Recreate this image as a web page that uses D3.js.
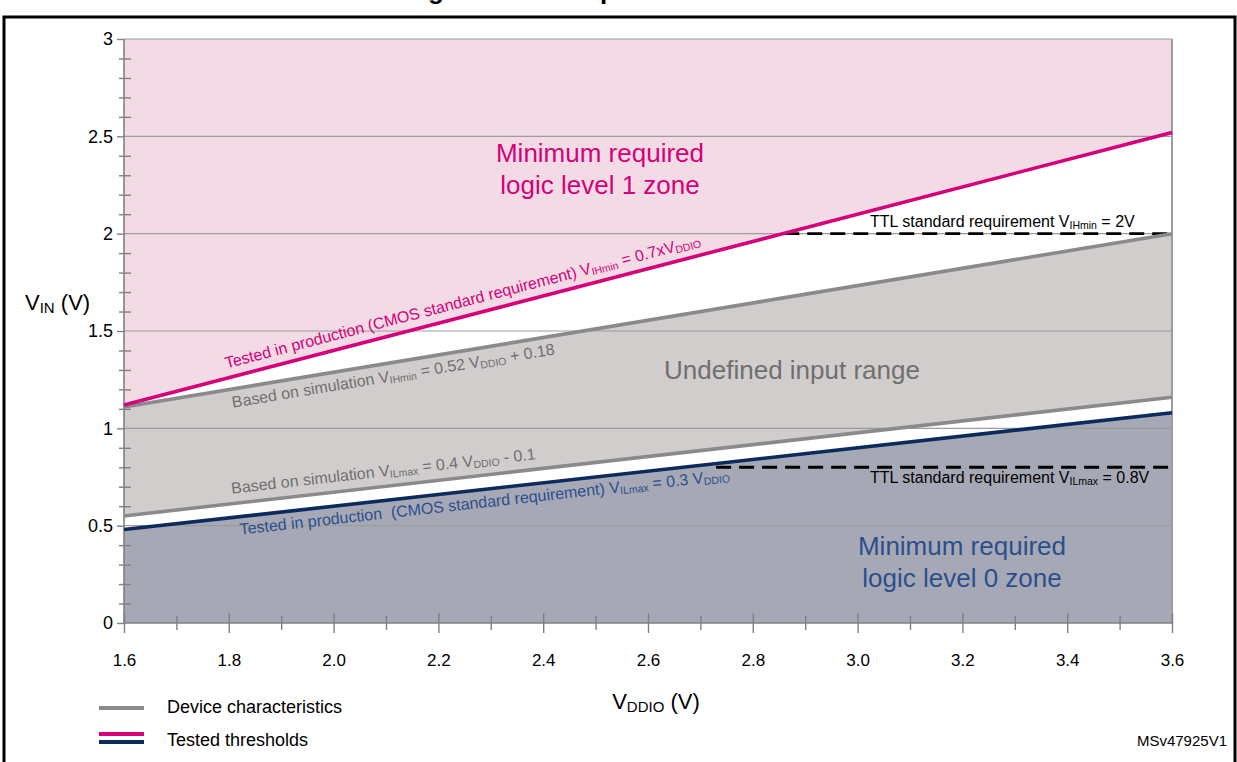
<!DOCTYPE html>
<html>
<head>
<meta charset="utf-8">
<script src="https://cdn.jsdelivr.net/npm/d3@7"></script>
<style>
  html, body { margin: 0; padding: 0; background: #fff; }
  svg { display: block; font-family: "Liberation Sans", Arial, sans-serif; }
</style>
</head>
<body>
<svg id="chart" width="1237" height="762"></svg>
<script>
// ---------- data ----------
const vddio      = [1.6, 3.6];          // x extent of every line
const vihTested  = [1.12, 2.52];        // 0.7 x VDDIO (magenta)
const vihSim     = [1.11, 2.00];        // simulated VIHmin (grey)
const vilSim     = [0.55, 1.16];        // simulated VILmax (grey)
const vilTested  = [0.48, 1.08];        // 0.3 x VDDIO (navy)
const ttlHighX   = [2.86, 3.6];  const ttlHighY = 2.0;
const ttlLowX    = [2.73, 3.6];  const ttlLowY  = 0.8;
const xMajor     = [1.6, 1.8, 2.0, 2.2, 2.4, 2.6, 2.8, 3.0, 3.2, 3.4, 3.6];
const xMajorLbl  = ["1.6","1.8","2.0","2.2","2.4","2.6","2.8","3.0","3.2","3.4","3.6"];
const xMinor     = [1.7, 1.9, 2.1, 2.3, 2.5, 2.7, 2.9, 3.1, 3.3, 3.5];
const yMajor     = [0, 0.5, 1, 1.5, 2, 2.5, 3];
const yMajorLbl  = ["0","0.5","1","1.5","2","2.5","3"];
const yMinor     = [0.1,0.2,0.3,0.4,0.6,0.7,0.8,0.9,1.1,1.2,1.3,1.4,1.6,1.7,1.8,1.9,2.1,2.2,2.3,2.4,2.6,2.7,2.8,2.9];

// ---------- colours ----------
const C = {
  pink: "#f2dbe4", lgray: "#d1cdcd", blue: "#a7a8b6",
  magenta: "#d6007b", gline: "#8a8a8a", navy: "#0c2a5c",
  gtext: "#6f6f6f", ntext: "#2b4f8d", grid: "#9c9c9c", axis: "#808080"
};

const svg = d3.select("#chart");
const x = d3.scaleLinear().domain([1.6, 3.6]).range([124, 1172]);
const y = d3.scaleLinear().domain([0, 3]).range([623, 39]);

const pts = ys => vddio.map((v, i) => [v, ys[i]]);
const lineGen = d3.line().x(d => x(d[0])).y(d => y(d[1]));
const band = (lo, hi) => d3.area().x(d => x(d[0])).y0(d => y(d[1])).y1(d => y(d[2]))(
  vddio.map((v, i) => [v, typeof lo === "number" ? lo : lo[i], typeof hi === "number" ? hi : hi[i]]));

// text with subscripts
function addParts(txt, parts, subSize = 10.5) {
  let shift = 0;
  parts.forEach(p => {
    if (typeof p === "string") {
      const t = txt.append("tspan").text(p);
      if (shift) { t.attr("dy", -shift); shift = 0; }
    } else {
      const d = p.dy || 2;
      txt.append("tspan").attr("font-size", p.size || subSize).attr("dy", d - shift).text(p.sub);
      shift = d;
    }
  });
}

// title (only its descenders show above the frame, as in the source)
svg.append("text").attr("x", 618).attr("y", -1.5).attr("text-anchor", "middle")
  .attr("font-size", 26).attr("font-weight", "bold").attr("fill", "#000")
  .text("Figure 18. I/O input characteristics");

// frame
svg.append("rect").attr("x", 4).attr("y", 17).attr("width", 1231).attr("height", 780)
  .attr("fill", "none").attr("stroke", "#000").attr("stroke-width", 3);

// fills
svg.append("path").attr("d", band(vihTested, 3)).attr("fill", C.pink);
svg.append("path").attr("d", band(vilSim, vihSim)).attr("fill", C.lgray);
svg.append("path").attr("d", band(0, vilTested)).attr("fill", C.blue);

// grid
svg.append("g").selectAll("line").data(yMajor.slice(1)).join("line")
  .attr("x1", x(1.6)).attr("x2", x(3.6)).attr("y1", d => y(d)).attr("y2", d => y(d))
  .attr("stroke", C.grid).attr("stroke-width", 1.2);
svg.append("line").attr("x1", x(3.6)).attr("x2", x(3.6)).attr("y1", y(0)).attr("y2", y(3))
  .attr("stroke", C.grid).attr("stroke-width", 2);

// axes
const gx = svg.append("g").attr("transform", `translate(0,${y(0)})`)
  .call(d3.axisBottom(x).tickValues(xMajor).tickFormat((d, i) => xMajorLbl[i]).tickSize(10).tickPadding(21));
gx.selectAll(".tick line").attr("y1", -10);
const gxm = svg.append("g").attr("transform", `translate(0,${y(0)})`)
  .call(d3.axisBottom(x).tickValues(xMinor).tickFormat("").tickSize(7));
gxm.selectAll(".tick line").attr("y1", -7);
gxm.selectAll(".tick text").remove();
gxm.select(".domain").remove();

const gy = svg.append("g").attr("transform", `translate(${x(1.6)},0)`)
  .call(d3.axisLeft(y).tickValues(yMajor).tickFormat((d, i) => yMajorLbl[i]).tickSize(7).tickPadding(4));
const gym = svg.append("g").attr("transform", `translate(${x(1.6)},0)`)
  .call(d3.axisLeft(y).tickValues(yMinor).tickFormat("").tickSize(5));
gym.selectAll(".tick line").attr("x1", 7);
gym.selectAll(".tick text").remove();
gym.select(".domain").remove();

[gx, gxm, gy, gym].forEach(g => {
  g.selectAll(".domain").attr("stroke", C.axis).attr("stroke-width", 1.6);
  g.selectAll(".tick line").attr("stroke", C.axis).attr("stroke-width", 1.4);
  g.selectAll(".tick text").attr("fill", "#000").attr("font-family", "Liberation Sans, Arial, sans-serif");
});
gx.select(".domain").attr("d", `M${x(1.6)},0H${x(3.6)}`);
gy.select(".domain").attr("d", `M0,${y(3)}V${y(0)}`);
gx.selectAll(".tick text").attr("font-size", 17);
gy.selectAll(".tick text").attr("font-size", 18);

// dashed TTL lines
svg.append("line").attr("x1", x(ttlHighX[0])).attr("x2", x(ttlHighX[1])).attr("y1", y(ttlHighY)).attr("y2", y(ttlHighY))
  .attr("stroke", "#000").attr("stroke-width", 2.8).attr("stroke-dasharray", "15,8");
svg.append("line").attr("x1", x(ttlLowX[0])).attr("x2", x(ttlLowX[1])).attr("y1", y(ttlLowY)).attr("y2", y(ttlLowY))
  .attr("stroke", "#000").attr("stroke-width", 2.8).attr("stroke-dasharray", "15,8");

// threshold lines
const lines = [[vihSim, C.gline], [vilSim, C.gline], [vihTested, C.magenta], [vilTested, C.navy]];
lines.forEach(([ys, col]) => svg.append("path").attr("d", lineGen(pts(ys)))
  .attr("fill", "none").attr("stroke", col).attr("stroke-width", 3.6));

// rotated labels along lines
function lineLabel(ys, atX, off, color, parts) {
  const ang = Math.atan2(y(ys[1]) - y(ys[0]), x(vddio[1]) - x(vddio[0])) * 180 / Math.PI;
  const t = (atX - vddio[0]) / (vddio[1] - vddio[0]);
  const px = x(atX), py = y(ys[0] + t * (ys[1] - ys[0]));
  const txt = svg.append("text").attr("transform", `translate(${px},${py}) rotate(${ang})`)
    .attr("x", 0).attr("y", off).attr("fill", color).attr("font-size", 16);
  addParts(txt, parts);
}
lineLabel(vihTested, 1.80, -9.5, C.magenta,
  ["Tested in production (CMOS standard requirement) V", {sub: "IHmin"}, " = 0.7xV", {sub: "DDIO"}]);
lineLabel(vihSim, 1.802, 18.5, C.gtext,
  ["Based on simulation V", {sub: "IHmin"}, " = 0.52 V", {sub: "DDIO"}, " + 0.18"]);
lineLabel(vilSim, 1.808, -10, C.gtext,
  ["Based on simulation V", {sub: "ILmax"}, " = 0.4 V", {sub: "DDIO"}, " - 0.1"]);
lineLabel(vilTested, 1.818, 18, C.ntext,
  ["Tested in production \u00A0(CMOS standard requirement) V", {sub: "ILmax"}, " = 0.3 V", {sub: "DDIO"}]);

// TTL labels
const t1 = svg.append("text").attr("x", 870).attr("y", 227).attr("font-size", 16).attr("fill", "#000");
addParts(t1, ["TTL standard requirement V", {sub: "IHmin"}, " = 2V"]);
const t2 = svg.append("text").attr("x", 870).attr("y", 483).attr("font-size", 16).attr("fill", "#000");
addParts(t2, ["TTL standard requirement V", {sub: "ILmax"}, " = 0.8V"]);

// zone labels
function zone(lines, cx, y0, color) {
  lines.forEach((l, i) => svg.append("text").attr("x", cx).attr("y", y0 + i * 32)
    .attr("text-anchor", "middle").attr("font-size", 26).attr("fill", color).text(l));
}
zone(["Minimum required", "logic level 1 zone"], 600, 162, C.magenta);
zone(["Undefined input range"], 792, 379, C.gtext);
zone(["Minimum required", "logic level 0 zone"], 962, 555, C.ntext);

// axis titles
const yt = svg.append("text").attr("x", 25).attr("y", 310).attr("font-size", 22).attr("fill", "#000");
addParts(yt, ["V", {sub: "IN", size: 15, dy: 3}, " (V)"]);
const xt = svg.append("text").attr("x", 656).attr("y", 709).attr("text-anchor", "middle").attr("font-size", 22).attr("fill", "#000");
addParts(xt, ["V", {sub: "DDIO", size: 15, dy: 3}, " (V)"]);

// legend
svg.append("line").attr("x1", 99).attr("x2", 144).attr("y1", 708).attr("y2", 708).attr("stroke", C.gline).attr("stroke-width", 4);
svg.append("line").attr("x1", 99).attr("x2", 144).attr("y1", 734).attr("y2", 734).attr("stroke", C.magenta).attr("stroke-width", 4);
svg.append("line").attr("x1", 99).attr("x2", 144).attr("y1", 742).attr("y2", 742).attr("stroke", C.navy).attr("stroke-width", 4);
svg.append("text").attr("x", 167).attr("y", 713).attr("font-size", 18).attr("fill", "#000").text("Device characteristics");
svg.append("text").attr("x", 167).attr("y", 746).attr("font-size", 18).attr("fill", "#000").text("Tested thresholds");

svg.append("text").attr("x", 1227).attr("y", 746).attr("text-anchor", "end").attr("font-size", 15).attr("fill", "#000").text("MSv47925V1");
</script>
</body>
</html>
